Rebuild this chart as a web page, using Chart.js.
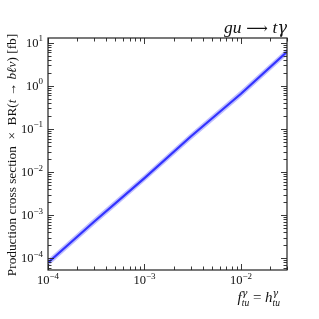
<!DOCTYPE html>
<html>
<head>
<meta charset="utf-8">
<script src="https://cdn.jsdelivr.net/npm/chart.js@4.4.0/dist/chart.umd.min.js"></script>
<style>
  html, body { margin: 0; padding: 0; background: #fff; }
</style>
</head>
<body>
<canvas id="myChart" width="319" height="319"></canvas>
<script>
// values (log-log)
const couplings = [1e-4, 3e-4, 1e-3, 3e-3, 1e-2, 3e-2];
const xsecCentral = [7.8e-5, 7.0e-4, 7.2e-3, 6.6e-2, 0.66, 6.2];
const xsecUpper = [9.4e-5, 8.4e-4, 8.6e-3, 7.9e-2, 0.79, 7.4];
const xsecLower = [6.5e-5, 5.8e-4, 6.0e-3, 5.5e-2, 0.55, 5.2];

const xMajorExps = [-4, -3, -2];
const yMajorExps = [-4, -3, -2, -1, 0, 1];

const serif = '"Liberation Serif", "DejaVu Serif", serif';
const greek = '"DejaVu Serif", serif';

function font(size, italic, fam) {
  return (italic ? "italic " : "") + size + "px " + (fam || serif);
}

function segWidth(ctx, s) {
  if (s.sup !== undefined) {
    ctx.font = font(s.size, true, greek);
    const a = ctx.measureText(s.sup).width;
    ctx.font = font(s.size, true);
    return Math.max(a, ctx.measureText(s.sub).width);
  }
  ctx.font = font(s.size, s.italic, s.fam);
  return ctx.measureText(s.text).width;
}

function drawRich(ctx, segs, x, y, align) {
  const w = segs.reduce((a, s) => a + segWidth(ctx, s), 0);
  let cx = align === "right" ? x - w : align === "center" ? x - w / 2 : x;
  ctx.textAlign = "left";
  ctx.textBaseline = "alphabetic";
  for (const s of segs) {
    const sw = segWidth(ctx, s);
    if (s.sup !== undefined) {
      ctx.font = font(s.size, true, greek);
      ctx.fillText(s.sup, cx, y - s.size * 0.6);
      ctx.font = font(s.size, true);
      ctx.fillText(s.sub, cx, y + s.size * 0.4);
    } else {
      ctx.font = font(s.size, s.italic, s.fam);
      ctx.fillText(s.text, cx, y + (s.dy || 0));
    }
    cx += sw;
  }
}

function powLabel(e) {
  return [
    { text: "10", size: 12.5 },
    { text: (e < 0 ? "\u2212" : "") + Math.abs(e), size: 9, dy: -5.5 },
  ];
}

function minorValues(min, max) {
  const out = [];
  for (let d = Math.floor(Math.log10(min)); d <= Math.ceil(Math.log10(max)); d++) {
    for (let k = 1; k <= 9; k++) {
      const v = k * Math.pow(10, d);
      if (v >= min * 0.999 && v <= max * 1.001) out.push({ v: v, major: k === 1 });
    }
  }
  return out;
}

const framePlugin = {
  id: "frame",
  afterDraw(chart) {
    const ctx = chart.ctx;
    const a = chart.chartArea;
    const xs = chart.scales.x;
    const ys = chart.scales.y;
    ctx.save();
    ctx.strokeStyle = "#222";
    ctx.fillStyle = "#111";
    ctx.lineWidth = 1.2;
    ctx.strokeRect(a.left, a.top, a.right - a.left, a.bottom - a.top);

    ctx.lineWidth = 0.9;
    // x ticks, inward on bottom and top
    minorValues(xs.min, xs.max).forEach((t) => {
      const px = Math.round(xs.getPixelForValue(t.v)) + 0.5;
      const len = t.major ? 6 : 3.5;
      ctx.beginPath();
      ctx.moveTo(px, a.bottom);
      ctx.lineTo(px, a.bottom - len);
      ctx.moveTo(px, a.top);
      ctx.lineTo(px, a.top + len);
      ctx.stroke();
    });
    // y ticks, inward on left and right
    minorValues(ys.min, ys.max).forEach((t) => {
      const py = Math.round(ys.getPixelForValue(t.v)) + 0.5;
      const len = t.major ? 6 : 3.5;
      ctx.beginPath();
      ctx.moveTo(a.left, py);
      ctx.lineTo(a.left + len, py);
      ctx.moveTo(a.right, py);
      ctx.lineTo(a.right - len, py);
      ctx.stroke();
    });

    // tick labels
    xMajorExps.forEach((e) => {
      const px = xs.getPixelForValue(Math.pow(10, e));
      drawRich(ctx, powLabel(e), px, a.bottom + 14, "center");
    });
    yMajorExps.forEach((e) => {
      const py = ys.getPixelForValue(Math.pow(10, e));
      drawRich(ctx, powLabel(e), a.left - 5, py + 4, "right");
    });

    // title
    drawRich(
      ctx,
      [
        { text: "gu", size: 17.5, italic: true },
        { text: " \u27f6 ", size: 15, fam: greek },
        { text: "t", size: 17.5, italic: true },
        { text: "\u03b3", size: 16, italic: true, fam: greek },
      ],
      a.right,
      a.top - 5,
      "right"
    );

    // x title
    drawRich(
      ctx,
      [
        { text: "f", size: 15, italic: true },
        { sup: "\u03b3", sub: "tu", size: 9.5 },
        { text: " = ", size: 15 },
        { text: "h", size: 15, italic: true },
        { sup: "\u03b3", sub: "tu", size: 9.5 },
      ],
      a.right - 7,
      302,
      "right"
    );

    // y title
    ctx.translate(16, (a.top + a.bottom) / 2 + 1);
    ctx.rotate(-Math.PI / 2);
    drawRich(
      ctx,
      [
        { text: "Production cross section  \u00d7  BR(", size: 13.3 },
        { text: "t", size: 13.3, italic: true },
        { text: " \u2192 ", size: 13.3 },
        { text: "b\u2113\u03bd", size: 13.3, italic: true },
        { text: ") [fb]", size: 13.3 },
      ],
      0,
      0,
      "center"
    );
    ctx.restore();
  },
};

const ctx1 = document.getElementById("myChart").getContext("2d");

const myChart = new Chart(ctx1, {
  type: "line",
  data: {
    datasets: [
      {
        label: "upper",
        data: couplings.map((x, i) => ({ x: x, y: xsecUpper[i] })),
        borderWidth: 0,
        borderColor: "rgba(0,0,0,0)",
        pointRadius: 0,
        fill: false,
      },
      {
        label: "lower",
        data: couplings.map((x, i) => ({ x: x, y: xsecLower[i] })),
        borderWidth: 0,
        borderColor: "rgba(0,0,0,0)",
        backgroundColor: "rgba(110, 110, 255, 0.45)",
        pointRadius: 0,
        fill: "-1",
      },
      {
        label: "central",
        data: couplings.map((x, i) => ({ x: x, y: xsecCentral[i] })),
        borderWidth: 2.2,
        borderColor: "#0000ff",
        pointRadius: 0,
        fill: false,
      },
    ],
  },
  options: {
    responsive: false,
    animation: false,
    devicePixelRatio: 1,
    layout: {
      padding: { left: 48, right: 32, top: 38, bottom: 49 },
    },
    plugins: {
      legend: { display: false },
      tooltip: { enabled: false },
    },
    scales: {
      x: { type: "logarithmic", min: 1e-4, max: 0.03, display: false },
      y: { type: "logarithmic", min: 5.3e-5, max: 13, display: false },
    },
  },
  plugins: [framePlugin],
});
</script>
</body>
</html>
